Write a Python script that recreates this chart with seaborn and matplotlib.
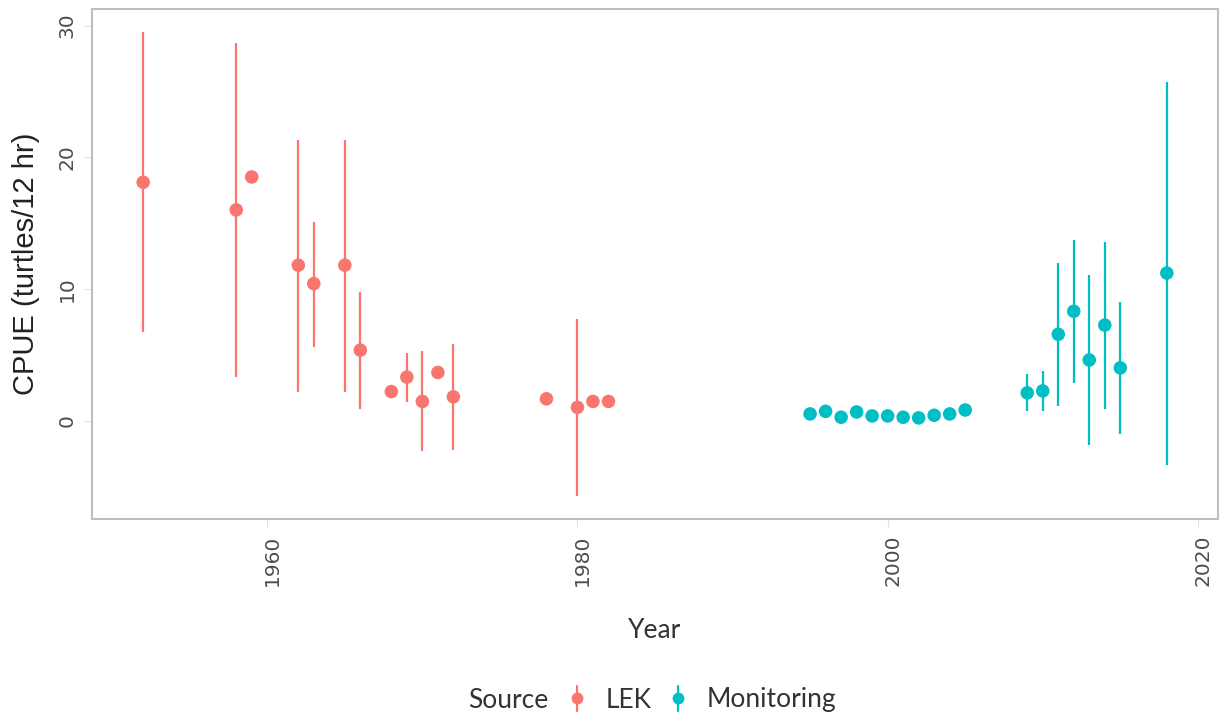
import numpy as np
import pandas as pd
import matplotlib
matplotlib.use("Agg")
import matplotlib.pyplot as plt
import matplotlib.transforms as mtransforms
from matplotlib.lines import Line2D
from matplotlib.legend_handler import HandlerBase
import seaborn as sns

nan = np.nan

# Local ecological knowledge (LEK) estimates
lek_years = [1952, 1958, 1959, 1962, 1963, 1965, 1966, 1968, 1969, 1970, 1971, 1972,
             1978, 1980, 1981, 1982]
lek_cpue = [18.1, 16.0, 18.5, 11.8, 10.4, 11.8, 5.35, 2.2, 3.3, 1.45, 3.65, 1.8,
            1.65, 1.0, 1.45, 1.45]
lek_lower = [6.7, 3.3, nan, 2.2, 5.6, 2.2, 0.9, nan, 1.4, -2.35, nan, -2.25,
             nan, -5.7, nan, nan]
lek_upper = [29.5, 28.7, nan, 21.3, 15.1, 21.3, 9.75, nan, 5.1, 5.25, nan, 5.8,
             nan, 7.75, nan, nan]

# Monitoring survey estimates
mon_years = [1995, 1996, 1997, 1998, 1999, 2000, 2001, 2002, 2003, 2004, 2005,
             2009, 2010, 2011, 2012, 2013, 2014, 2015, 2018]
mon_cpue = [0.5, 0.7, 0.25, 0.65, 0.35, 0.35, 0.25, 0.2, 0.4, 0.5, 0.8,
            2.1, 2.25, 6.55, 8.3, 4.6, 7.25, 4.0, 11.2]
mon_lower = [nan] * 11 + [0.75, 0.7, 1.1, 2.85, -1.85, 0.9, -1.0, -3.35]
mon_upper = [nan] * 11 + [3.5, 3.8, 11.95, 13.75, 11.05, 13.55, 9.0, 25.7]

sources = ["LEK", "Monitoring"]
palette = {"LEK": "#F8766D", "Monitoring": "#00BFC4"}
x_ticks = [1960, 1980, 2000, 2020]
y_ticks = [0, 10, 20, 30]

df = pd.concat([
    pd.DataFrame({"Year": lek_years, "CPUE": lek_cpue, "lower": lek_lower,
                  "upper": lek_upper, "Source": "LEK"}),
    pd.DataFrame({"Year": mon_years, "CPUE": mon_cpue, "lower": mon_lower,
                  "upper": mon_upper, "Source": "Monitoring"}),
], ignore_index=True)

sns.set_theme(style="white")
plt.rcParams["font.family"] = ["DejaVu Sans"]

W, H = 1225, 717
fig = plt.figure(figsize=(W / 100, H / 100), dpi=100)
left, right, top, bottom = 92, 1218, 9, 519
ax = fig.add_axes([left / W, 1 - bottom / H, (right - left) / W, (bottom - top) / H])

# Uncertainty ranges
for src in sources:
    sub = df[(df.Source == src) & df.lower.notna()]
    ax.vlines(sub.Year, sub.lower, sub.upper, color=palette[src], lw=1.6, zorder=2)

# Point estimates
sns.scatterplot(data=df, x="Year", y="CPUE", hue="Source", palette=palette,
                s=95, linewidth=0, legend=False, zorder=3, ax=ax)

ax.set_xlim(1948.7, 2021.3)
ax.set_ylim(-7.48, 31.26)
ax.set_xticks(x_ticks)
ax.set_yticks(y_ticks)
ax.grid(False)
for sp in ax.spines.values():
    sp.set_visible(True)
    sp.set_color("#bdbdbd")
    sp.set_linewidth(1.5)

ax.tick_params(axis="both", which="major", length=6, width=0.8, color="#e0e0e0",
               labelsize=14.5, labelcolor="#4d4d4d", pad=5, left=True, bottom=True)
ax.tick_params(axis="x", labelrotation=90)
ax.tick_params(axis="y", labelrotation=90)
for lab in ax.get_yticklabels():
    lab.set_va("center")
shift = mtransforms.ScaledTranslation(5 / 100, 0, fig.dpi_scale_trans)
for lab in ax.get_xticklabels():
    lab.set_transform(lab.get_transform() + shift)

ax.set_xlabel("Year", fontsize=19, fontfamily="Lato", color="#333333")
ax.xaxis.set_label_coords(0.5, -(630 - bottom) / (bottom - top))
ax.xaxis.label.set_va("center")
ax.set_ylabel("CPUE (turtles/12 hr)", fontsize=21, fontfamily="Liberation Sans",
              color="#222222")
ax.yaxis.set_label_coords((40 - left) / (right - left), 0.5)


class PointRangeHandler(HandlerBase):
    def create_artists(self, legend, orig_handle, xdescent, ydescent, width,
                       height, fontsize, trans):
        cx = width / 2 - xdescent
        cy = height / 2 - ydescent
        half = 0.47 * fontsize
        c = orig_handle.get_color()
        seg = Line2D([cx, cx], [cy - half, cy + half], color=c, lw=1.6,
                     transform=trans)
        dot = Line2D([cx], [cy], marker="o", ms=8.5, color=c, ls="none",
                     markeredgewidth=0, transform=trans)
        return [seg, dot]


handles = [Line2D([], [], color=palette[s]) for s in sources]
leg = fig.legend(handles, sources, loc="center", ncol=2,
                 bbox_to_anchor=(700 / W, 1 - 700 / H),
                 handler_map={Line2D: PointRangeHandler()},
                 frameon=False, handlelength=1.0, handletextpad=0.6,
                 columnspacing=0.5, prop={"family": "Lato", "size": 19})
for t in leg.get_texts():
    t.set_color("#333333")
fig.text(468 / W, 1 - 700 / H, "Source", ha="left", va="center",
         fontsize=19, fontfamily="Lato", color="#333333")

fig.savefig("out.png", dpi=100, facecolor="white")
